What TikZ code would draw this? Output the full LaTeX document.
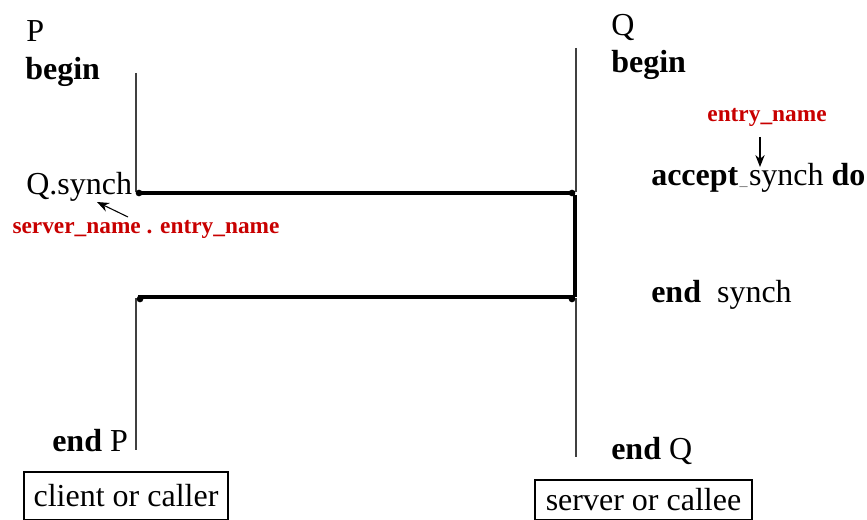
\documentclass[tikz,border=0pt]{standalone}
\usepackage{fontspec}
\setmainfont{Liberation Serif}
\usetikzlibrary{arrows.meta}
\definecolor{redtxt}{RGB}{200,0,0}
\begin{document}
\begin{tikzpicture}[x=0.75pt,y=-0.75pt,
  txt/.style={anchor=base west,inner sep=0pt,font=\fontsize{24}{26}\selectfont},
  redlbl/.style={inner sep=0pt,text=redtxt,font=\fontsize{17.5}{19}\selectfont\bfseries},
  life/.style={draw=black!75,line width=0.8pt},
  msg/.style={line width=2.4pt},
  dotc/.style={circle,fill=black,inner sep=0pt,minimum size=5pt},
  note/.style={-{Stealth[length=9pt,width=7pt]},line width=0.8pt},
  lblbox/.style={draw,line width=0.8pt,inner sep=0pt,font=\fontsize{24}{26}\selectfont}]
\useasboundingbox (0,0) rectangle (867,520);
% P side texts
\node[txt] (Pn) at (26,42) {P};
\node[txt] (Pb) at (25,80) {\textbf{begin}};
\node[txt] (Qs) at (26,195) {Q.synch};
\node[redlbl] (sn) at (146,229) {server\_name . entry\_name};
\node[txt] (eP) at (52,451) {\textbf{end} P};
% Q side texts
\node[txt] (Qn) at (611,36) {Q};
\node[txt] (Qb) at (611,73) {\textbf{begin}};
\node[redlbl] (en) at (767,117) {entry\_name};
\node[txt] (acc) at (651,186) {\textbf{accept}\kern1pt{\color{black!60}\fontsize{12}{12}\selectfont\_}\kern1pt synch \textbf{do}};
\node[txt] (es) at (651,302) {\textbf{end}\ \ synch};
\node[txt] (eQ) at (611,459) {\textbf{end} Q};
% lifelines
\coordinate (p1) at (136,73);
\coordinate (p2) at (136,192);
\coordinate (p3) at (136,298);
\coordinate (p4) at (136,450);
\coordinate (q1) at (576,48);
\coordinate (q2) at (576,192);
\coordinate (q3) at (576,298);
\coordinate (q4) at (576,457);
\draw[life] (p1) -- (p2);
\draw[life] (p3) -- (p4);
\draw[life] (q1) -- (q2);
\draw[life] (q3) -- (q4);
% dots
\node[dotc] (d1) at (139,193) {};
\node[dotc] (d2) at (572,193) {};
\node[dotc] (d3) at (140,299) {};
\node[dotc] (d4) at (572,299) {};
% rendezvous
\coordinate (r1) at (138,193);
\coordinate (r2) at (575,193);
\coordinate (r3) at (575,297);
\coordinate (r4) at (138,297);
\coordinate (r5) at (575,195);
\draw[msg] (r1) -- (r2);
\draw[msg] (r4) -- (r3);
\draw[msg] (r5) -- (r3);
% annotation arrows
\coordinate (a1) at (128,217);
\coordinate (a2) at (97,202);
\draw[note] (a1) -- (a2);
\coordinate (b1) at (760,137);
\coordinate (b2) at (760,167);
\draw[note] (b1) -- (b2);
% bottom boxes
\node[lblbox,minimum width=204pt*0.75,minimum height=48pt*0.75] (cb) at (126,496) {client or caller};
\node[lblbox,minimum width=217pt*0.75,minimum height=40pt*0.75] (sb) at (643.5,500) {server or callee};
\end{tikzpicture}
\end{document}
